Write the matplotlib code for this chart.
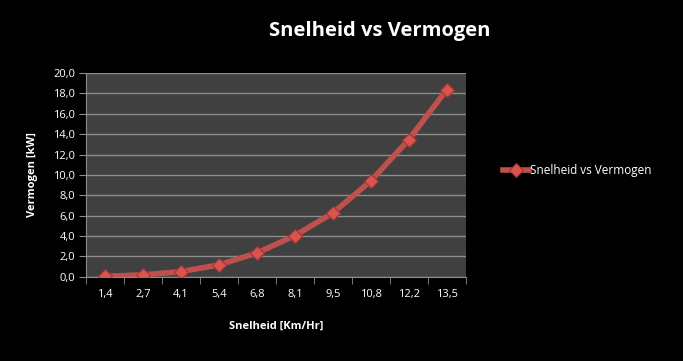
import matplotlib.pyplot as plt
from matplotlib.ticker import FixedLocator

speed_labels = ['1,4', '2,7', '4,1', '5,4', '6,8', '8,1', '9,5', '10,8', '12,2', '13,5']
power_kw = [0.05, 0.2, 0.52, 1.18, 2.35, 4.05, 6.27, 9.41, 13.46, 18.37]
y_ticks = [0, 2, 4, 6, 8, 10, 12, 14, 16, 18, 20]

plt.rcParams['font.family'] = ['Open Sans', 'DejaVu Sans']

fig = plt.figure(figsize=(6.83, 3.61), dpi=100, facecolor='black')
ax = fig.add_axes([0.126, 0.233, 0.556, 0.565])
ax.set_facecolor('#404040')

x = list(range(len(speed_labels)))
ax.plot(x, power_kw, color='#c0504d', lw=4, marker='D', markersize=7.5,
        markerfacecolor='#d9534f', markeredgecolor='#9e3532', markeredgewidth=0.8,
        label='Snelheid vs Vermogen', zorder=3)

ax.set_xlim(-0.5, len(speed_labels) - 0.5)
ax.set_ylim(0, 20)
ax.set_yticks(y_ticks)
ax.set_yticklabels([f'{v:.1f}'.replace('.', ',') for v in y_ticks])
ax.set_xticks(x)
ax.set_xticklabels(speed_labels)
ax.xaxis.set_minor_locator(FixedLocator([i - 0.5 for i in range(len(speed_labels) + 1)]))
ax.tick_params(axis='x', which='major', length=0, pad=9, colors='white', labelsize=8)
ax.tick_params(axis='x', which='minor', length=5, color='#8c8c8c', direction='out')
ax.tick_params(axis='y', length=5, color='#8c8c8c', colors='white', labelsize=8, pad=3)
for lab in ax.get_yticklabels() + ax.get_xticklabels():
    lab.set_color('white')

ax.grid(axis='y', color='#8c8c8c', lw=1)
ax.set_axisbelow(True)
for side in ['top', 'right']:
    ax.spines[side].set_visible(False)
for side in ['left', 'bottom']:
    ax.spines[side].set_color('#8c8c8c')

ax.set_xlabel('Snelheid [Km/Hr]', color='white', fontsize=8, fontweight='bold', labelpad=15)
ax.set_ylabel('Vermogen [kW]', color='white', fontsize=8, fontweight='bold', labelpad=11)
fig.text(0.556, 0.913, 'Snelheid vs Vermogen', color='white', fontsize=14.5,
         fontweight='bold', ha='center', va='center')

leg = ax.legend(loc='center left', bbox_to_anchor=(1.07, 0.52), frameon=False,
                fontsize=8.5, handlelength=2.2, handletextpad=0.1, labelcolor='white')

fig.savefig('out.png', dpi=100, facecolor='black')
